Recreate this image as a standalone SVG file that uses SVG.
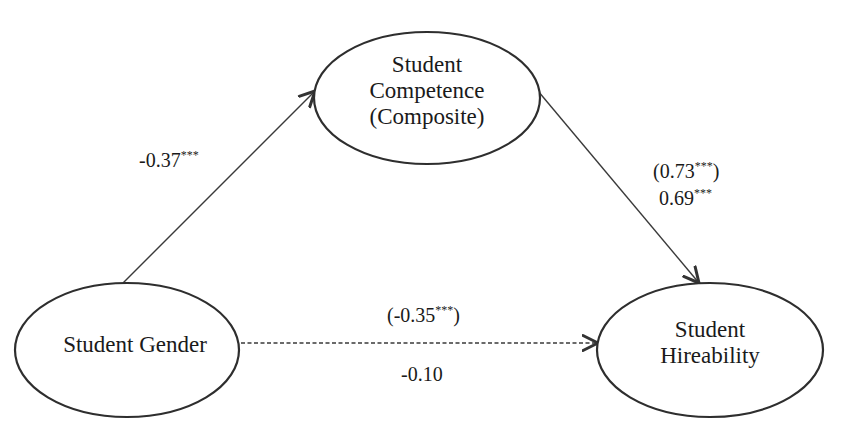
<svg xmlns="http://www.w3.org/2000/svg" width="850" height="424" viewBox="0 0 850 424">
<style>
.node{fill:#fff;stroke:#2e2e2e;stroke-width:2.2}
text{font-family:'Liberation Serif','Times New Roman','DejaVu Serif',serif;fill:#1a1a1a}
.t{font-size:23px;text-anchor:middle}
.l{font-size:20px}
.s{font-size:12px;fill:#1a1a1a}
.edge{stroke:#3a3a3a;stroke-width:1.4;fill:none}
</style>
<defs>
<marker id="ah" markerUnits="userSpaceOnUse" markerWidth="20" markerHeight="20" refX="13" refY="7" orient="auto" viewBox="0 0 16 14">
<path d="M1,1 L13,7 L1,13" fill="none" stroke="#333" stroke-width="2.4" stroke-linecap="round" stroke-linejoin="round"/>
</marker>
</defs>
<rect width="850" height="424" fill="#fff"/>
<g id="connectors">
<line class="edge" x1="123" y1="283" x2="315" y2="91" marker-end="url(#ah)"/>
<line class="edge" x1="538" y1="91" x2="699" y2="283" marker-end="url(#ah)"/>
<line class="edge" x1="241" y1="343" x2="598" y2="343" stroke-dasharray="4,2.5" marker-end="url(#ah)"/>
</g>
<g id="competence">
<ellipse class="node" cx="427" cy="98" rx="113" ry="66"/>
<text class="t" x="427" y="72">Student</text>
<text class="t" x="427" y="98">Competence</text>
<text class="t" x="427" y="124">(Composite)</text>
</g>
<g id="gender">
<ellipse class="node" cx="127" cy="350" rx="112" ry="67"/>
<text class="t" x="135" y="352">Student Gender</text>
</g>
<g id="hireability">
<ellipse class="node" cx="710" cy="350" rx="113" ry="67"/>
<text class="t" x="710" y="337">Student</text>
<text class="t" x="710" y="363">Hireability</text>
</g>
<g id="labels">
<text class="l" x="139" y="167">-0.37<tspan class="s" dy="-8">***</tspan></text>
<text class="l" x="653" y="178">(0.73<tspan class="s" dy="-8">***</tspan><tspan dy="8">)</tspan></text>
<text class="l" x="659" y="205">0.69<tspan class="s" dy="-8">***</tspan></text>
<text class="l" x="387" y="322">(-0.35<tspan class="s" dy="-8">***</tspan><tspan dy="8">)</tspan></text>
<text class="l" x="401" y="381">-0.10</text>
</g>
</svg>
